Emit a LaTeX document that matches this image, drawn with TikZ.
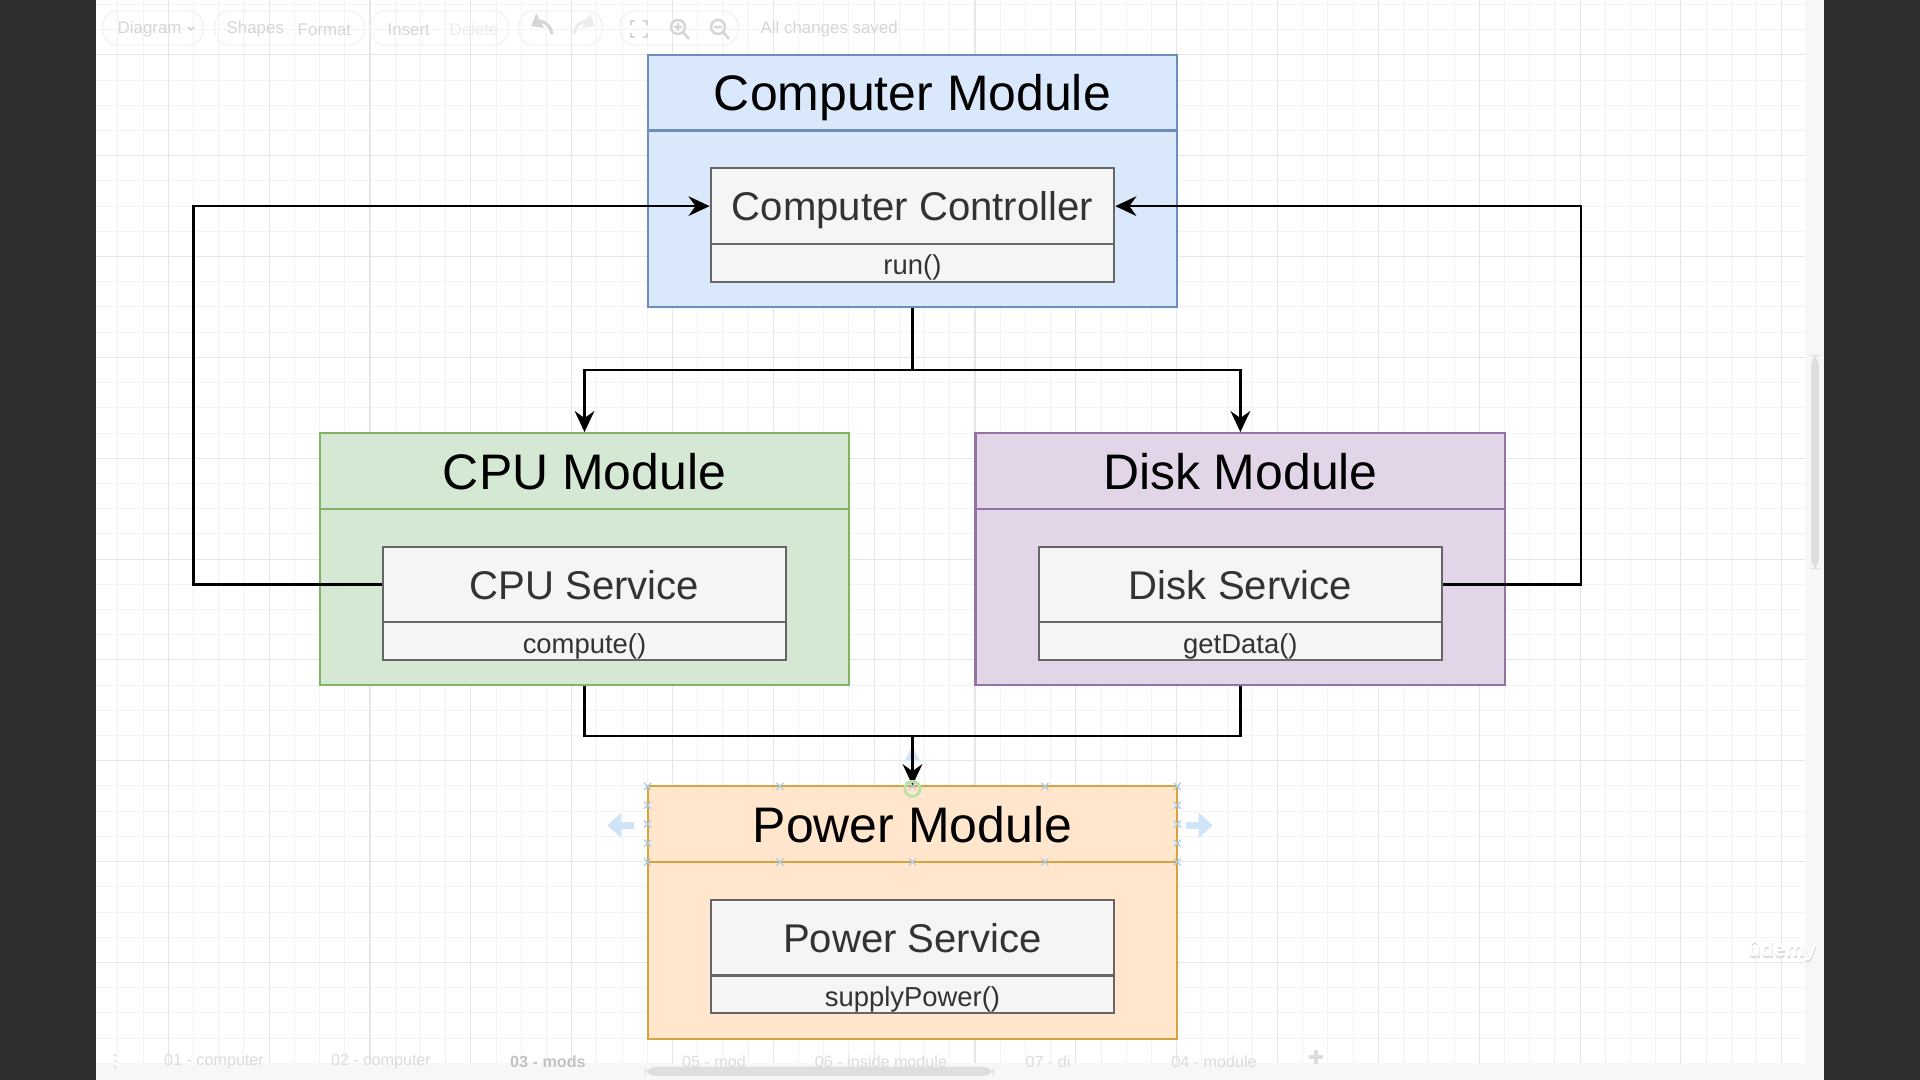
\documentclass[tikz,border=0pt]{standalone}
\usepackage{fontspec}
\setmainfont{Liberation Sans}
\usetikzlibrary{arrows.meta}

\definecolor{darkbar}{HTML}{2D2E30}
\definecolor{gridminor}{HTML}{F3F3F3}
\definecolor{gridmajor}{HTML}{E6E6E6}
\definecolor{panelgray}{HTML}{F7F7F7}
\definecolor{thumbgray}{HTML}{DEDEDE}
\definecolor{uitext}{HTML}{D6D6D6}
\definecolor{uifaint}{HTML}{ECECEC}
\definecolor{uiframe}{HTML}{F3F3F3}
\definecolor{tabtext}{HTML}{DCDCDC}
\definecolor{tabactive}{HTML}{C2C2C2}
\definecolor{blueFill}{HTML}{DAE8FC}
\definecolor{blueLine}{HTML}{6C8EBF}
\definecolor{greenFill}{HTML}{D5E8D4}
\definecolor{greenLine}{HTML}{82B366}
\definecolor{purpleFill}{HTML}{E1D5E7}
\definecolor{purpleLine}{HTML}{9673A6}
\definecolor{orangeFill}{HTML}{FFE6CC}
\definecolor{orangeLine}{HTML}{D6A340}
\definecolor{svcFill}{HTML}{F5F5F5}
\definecolor{svcLine}{HTML}{666666}
\definecolor{svcText}{HTML}{333333}
\definecolor{handleBlue}{HTML}{A9CDEB}
\definecolor{hintBlue}{HTML}{CFE4F7}
\definecolor{pickGreen}{HTML}{B9E3A6}

\tikzset{
  modbox/.style 2 args={draw=#2, fill=#1, line width=0.6pt, inner sep=0pt,
    minimum width=5.2941cm},
  modhead/.style={minimum height=0.7563cm, text depth=0pt,
    font=\fontsize{14.2}{16}\selectfont},
  modbody/.style={minimum height=1.7647cm},
  svcbox/.style={draw=svcLine, fill=svcFill, line width=0.6pt, inner sep=0pt,
    minimum width=4.0336cm, text=svcText},
  svchead/.style={minimum height=0.7563cm, text depth=0pt,
    font=\fontsize{11.4}{13}\selectfont},
  svcrow/.style={minimum height=0.37815cm},
  rowtext/.style={inner sep=0pt, text depth=0pt, text=svcText, yshift=-0.6pt,
    font=\fontsize{7.8}{9}\selectfont},
  link/.style={line width=0.7pt, black},
  arrowlink/.style={link, -{Stealth[length=6pt,width=5.6pt,inset=2pt]}},
  uilabel/.style={text=uitext, font=\fontsize{4.8}{6}\selectfont, inner sep=0pt},
  tablabel/.style={text=tabtext, font=\fontsize{4.6}{6}\selectfont, inner sep=0pt},
  uiicon/.style={draw=uitext, line width=0.9pt},
  uigroup/.style={draw=uiframe, line width=0.4pt, rounded corners=4pt},
  handle/.style={draw=handleBlue, line width=0.35pt},
}

\begin{document}
\begin{tikzpicture}[x=0.01cm, y=-0.01cm]
\useasboundingbox (0,0) rectangle (1920,1080);

% dark frame and white canvas
\fill[darkbar] (0,0) rectangle (1920,1080);
\fill[white] (96,0) rectangle (1824,1080);

% canvas grid
\begin{scope}
  \clip (96,0) rectangle (1805,1063);
  \foreach \k in {-3,...,65}
    \draw[gridminor, line width=0.28pt] ({168.3+25.21*\k},0) -- ++(0,1063);
  \foreach \k in {-7,...,36}
    \draw[gridminor, line width=0.28pt] (96,{155.7+25.21*\k}) -- ++(1709,0);
  \foreach \k in {-4,0,...,64}
    \draw[gridmajor, line width=0.3pt] ({168.3+25.21*\k},0) -- ++(0,1063);
  \foreach \k in {-8,-4,...,36}
    \draw[gridmajor, line width=0.3pt] (96,{155.7+25.21*\k}) -- ++(1709,0);
\end{scope}

% scroll areas
\fill[panelgray] (1805,0) rectangle (1824,1080);
\fill[panelgray] (96,1063) rectangle (1824,1080);
\fill[thumbgray, rounded corners=3pt] (1811,355) rectangle (1819,569);
\fill[thumbgray, rounded corners=3pt] (645,1067) rectangle (994,1076);

% toolbar
\draw[uigroup] (103,11) rectangle (203,45);
\draw[uigroup] (215,11) rectangle (364,45);
\draw[uigroup] (371,11) rectangle (508,45);
\draw[uigroup] (519,11) rectangle (602,45);
\draw[uigroup] (620,11) rectangle (738,45);
\node[uilabel, anchor=west] (tbDiagram) at (117,29.5) {Diagram};
\draw[uiicon, line width=0.5pt] (188,27) -- (191,30) -- (194,27);
\node[uilabel, anchor=west] (tbShapes) at (226,29.5) {Shapes};
\node[uilabel, anchor=west] (tbFormat) at (297,29.5) {Format};
\node[uilabel, anchor=west] (tbInsert) at (387,29.5) {Insert};
\node[uilabel, anchor=west, text=uifaint] (tbDelete) at (449,29.5) {Delete};
\draw[uiicon, -{Triangle[length=3pt,width=4.5pt]}] (552,34) .. controls (550,22) and (540,21) .. (531,26);
\draw[uiicon, draw=uifaint, -{Triangle[length=3pt,width=4.5pt]}] (574,34) .. controls (576,22) and (586,21) .. (595,26);
\draw[uiicon, line width=0.7pt] (631,25) -- (631,21) -- (635,21) (643,21) -- (647,21) -- (647,25)
  (647,33) -- (647,37) -- (643,37) (635,37) -- (631,37) -- (631,33);
\draw[uiicon, line width=0.7pt] (678,27) circle (7) (683,32) -- (689,39)
  (674,27) -- (682,27) (678,23) -- (678,31);
\draw[uiicon, line width=0.7pt] (718,27) circle (7) (723,32) -- (729,39)
  (714,27) -- (722,27);
\node[uilabel, anchor=west] (tbSaved) at (760,29.5) {All changes saved};

% page tabs
\foreach \yy in {1055,1061,1067} \fill[tabtext] (115,\yy) circle (1.4);
\node[tablabel] (tab01) at (214,1061.5) {01 - computer};
\node[tablabel] (tab02) at (381,1061.5) {02 - computer};
\node[tablabel, text=tabactive, font=\fontsize{4.6}{6}\selectfont\bfseries] (tab03) at (548,1061.5) {03 - mods};
\node[tablabel] (tab05) at (714,1061.5) {05 - mod};
\node[tablabel] (tab06) at (881,1061.5) {06 - inside module};
\node[tablabel] (tab07) at (1048,1061.5) {07 - di};
\node[tablabel] (tab04) at (1214,1061.5) {04 - module};
\draw[tabtext, line width=1pt] (1309,1057) -- (1323,1057) (1316,1050) -- (1316,1064);

% watermark
\node[text=gray!30, font=\fontsize{6}{7}\selectfont\bfseries, inner sep=0pt] (markShade) at (1782.6,952.6) {ûdemy};
\node[text=white, font=\fontsize{6}{7}\selectfont\bfseries, inner sep=0pt] (mark) at (1782,951) {ûdemy};

% ---------------- module diagram (grid units) ----------------
\begin{scope}[shift={(168.3,155.7)}]
\begin{scope}[x=0.2521cm, y=-0.2521cm]

% Computer Module
\node[modbox={blueFill}{blueLine}, modbody] (cmB) at (29.5,2.5) {};
\node[modbox={blueFill}{blueLine}, modhead] (cmH) at (29.5,-2.5) {Computer Module};
\node[svcbox, svchead] (ccH) at (29.5,2) {Computer Controller};
\node[svcbox, svcrow] (ccM) at (29.5,4.25) {};
\node[rowtext] (ccMt) at (ccM) {run()};

% CPU Module
\node[modbox={greenFill}{greenLine}, modbody] (cpuB) at (16.5,17.5) {};
\node[modbox={greenFill}{greenLine}, modhead] (cpuH) at (16.5,12.5) {CPU Module};
\node[svcbox, svchead] (cpuSH) at (16.5,17) {CPU Service};
\node[svcbox, svcrow] (cpuSM) at (16.5,19.25) {};
\node[rowtext] (cpuSMt) at (cpuSM) {compute()};

% Disk Module
\node[modbox={purpleFill}{purpleLine}, modbody] (diskB) at (42.5,17.5) {};
\node[modbox={purpleFill}{purpleLine}, modhead] (diskH) at (42.5,12.5) {Disk Module};
\node[svcbox, svchead] (diskSH) at (42.5,17) {Disk Service};
\node[svcbox, svcrow] (diskSM) at (42.5,19.25) {};
\node[rowtext] (diskSMt) at (diskSM) {getData()};

% Power Module
\node[modbox={orangeFill}{orangeLine}, modbody] (pwB) at (29.5,31.5) {};
\node[modbox={orangeFill}{orangeLine}, modhead] (pwH) at (29.5,26.5) {Power Module};
\node[svcbox, svchead] (pwSH) at (29.5,31) {Power Service};
\node[svcbox, svcrow] (pwSM) at (29.5,33.25) {};
\node[rowtext] (pwSMt) at (pwSM) {supplyPower()};

% routing points
\coordinate (fork) at (29.5,8.5);
\coordinate (leftBend) at (1,17);
\coordinate (rightBend) at (56,17);
\coordinate (join) at (29.5,23);

% faint drop hint behind the incoming connector
\fill[hintBlue] (29.5,23.4) -- (29.2,24.0) -- (29.8,24.0) -- cycle;

% connectors
\draw[arrowlink] (cmB.south) -- (fork) -| (cpuH.north);
\draw[arrowlink] (fork) -| (diskH.north);
\draw[arrowlink] (cpuSH.west) -- (leftBend) |- (ccH.west);
\draw[arrowlink] (diskSH.east) -- (rightBend) |- (ccH.east);
\draw[link] (cpuB.south) |- (join);
\draw[link] (diskB.south) |- (join);
\draw[arrowlink] (join) -- (pwH.north);

% selection handles on the Power Module header
\foreach \hx in {19,24.25,29.5,34.75,40}
  \foreach \hy in {25,28}
    \draw[handle] (\hx-0.14,\hy-0.14) -- (\hx+0.14,\hy+0.14) (\hx-0.14,\hy+0.14) -- (\hx+0.14,\hy-0.14);
\foreach \hx in {19,40}
  \foreach \hy in {25.75,26.5,27.25}
    \draw[handle] (\hx-0.14,\hy-0.14) -- (\hx+0.14,\hy+0.14) (\hx-0.14,\hy+0.14) -- (\hx+0.14,\hy-0.14);
\draw[hintBlue, line width=2.2pt, -{Triangle[length=4pt,width=7pt]}] (18.45,26.55) -- (17.4,26.55);
\draw[hintBlue, line width=2.2pt, -{Triangle[length=4pt,width=7pt]}] (40.35,26.55) -- (41.4,26.55);
\draw[pickGreen, line width=0.8pt] (29.5,25.1) circle (0.3);

\end{scope}
\end{scope}
\end{tikzpicture}
\end{document}
